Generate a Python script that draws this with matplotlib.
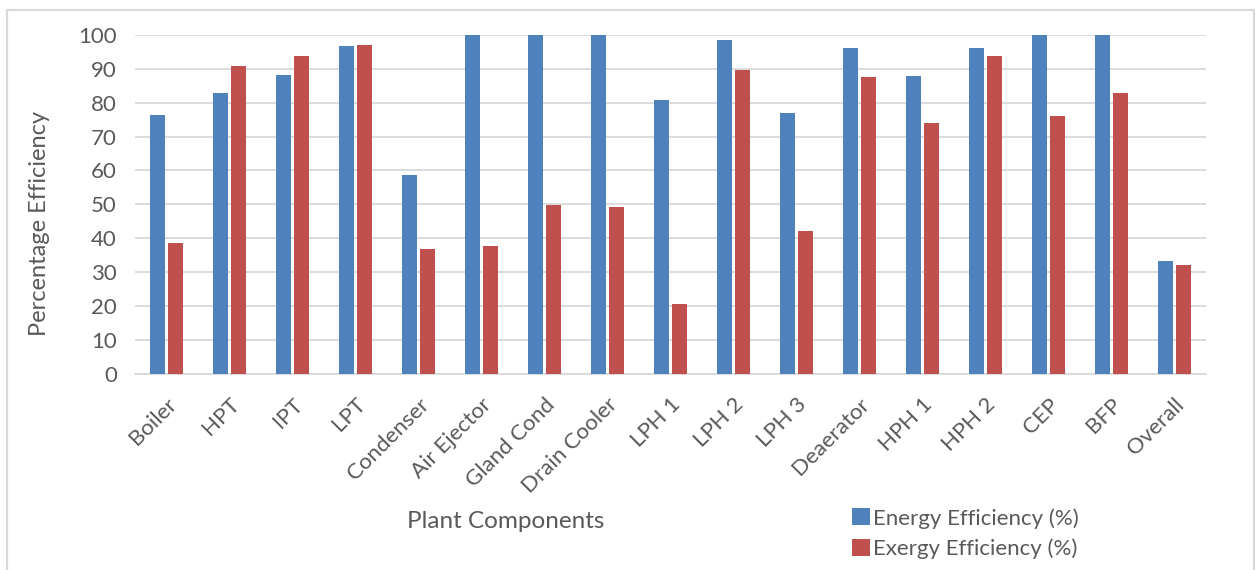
"""Energy and exergy efficiency of each plant component, grouped bar chart."""

import matplotlib

matplotlib.use("Agg")
import matplotlib.pyplot as plt
from matplotlib.patches import Rectangle
import numpy as np

components = ["Boiler", "HPT", "IPT", "LPT", "Condenser", "Air Ejector", "Gland Cond",
              "Drain Cooler", "LPH 1", "LPH 2", "LPH 3", "Deaerator", "HPH 1", "HPH 2",
              "CEP", "BFP", "Overall"]
energy_eff = [76.4, 82.9, 88.2, 96.7, 58.6, 100.0, 100.0, 100.0, 80.8, 98.5, 76.9,
              96.2, 87.9, 96.2, 100.0, 100.0, 33.2]
exergy_eff = [38.5, 90.8, 93.8, 97.0, 36.7, 37.6, 49.75, 49.2, 20.5, 89.7, 42.1,
              87.6, 74.0, 93.8, 76.1, 82.9, 32.0]
series_labels = ["Energy Efficiency (%)", "Exergy Efficiency (%)"]
yticks = list(range(0, 101, 10))

BLUE = "#4f81bd"
RED = "#c0504d"
TEXT = "#595959"
GRID = "#d9d9d9"

plt.rcParams["font.family"] = ["Lato", "DejaVu Sans"]

W, H = 1255, 570
fig = plt.figure(figsize=(W / 100, H / 100), dpi=100)
fig.patches.append(Rectangle((7 / W, -0.05), (1254 - 7) / W, 1.05 - 10 / H,
                             transform=fig.transFigure, fill=False,
                             edgecolor=GRID, lw=1.6, zorder=0))

ax = fig.add_axes([135 / W, 1 - 373.5 / H, (1205.7 - 135) / W, (373.5 - 35) / H])
x = np.arange(len(components))
width = 0.238
offset = 0.143
b1 = ax.bar(x - offset, energy_eff, width, color=BLUE, label=series_labels[0], zorder=3)
b2 = ax.bar(x + offset, exergy_eff, width, color=RED, label=series_labels[1], zorder=3)

ax.set_xlim(-0.5, len(components) - 0.5)
ax.set_ylim(0, 100)
ax.set_yticks(yticks)
ax.yaxis.grid(True, color=GRID, lw=1.3, zorder=0)
ax.set_axisbelow(True)
for side in ["top", "right", "left"]:
    ax.spines[side].set_visible(False)
ax.spines["bottom"].set_color(GRID)
ax.spines["bottom"].set_linewidth(1.3)
ax.tick_params(axis="both", length=0, colors=TEXT, labelsize=16)
ax.tick_params(axis="y", pad=13)
ax.set_xticks(x)
ax.set_xticklabels(components, rotation=45, ha="right", rotation_mode="anchor")
ax.tick_params(axis="x", pad=15)

fig.text(40 / W, 1 - 224 / H, "Percentage Efficiency", rotation=90, ha="center",
         va="center", fontsize=17, color=TEXT)
fig.text(506 / W, 1 - 522 / H, "Plant Components", ha="center", va="center",
         fontsize=17.5, color=TEXT)

leg = fig.legend(handles=[b1, b2], labels=series_labels, loc="upper left",
                 bbox_to_anchor=(832 / W, 1 - 488 / H), frameon=False, fontsize=16,
                 handlelength=0.8, handleheight=0.8, handletextpad=0.15,
                 labelspacing=0.45, labelcolor=TEXT)

fig.savefig("out.png", dpi=100)
